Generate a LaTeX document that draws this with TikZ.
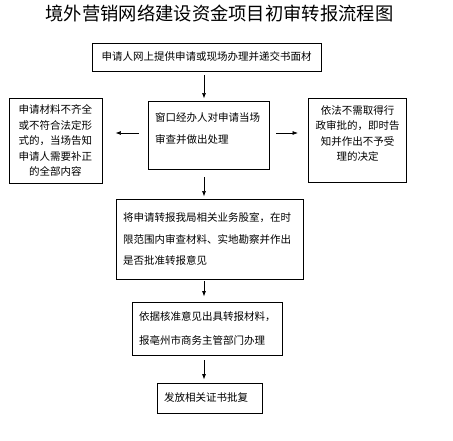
\documentclass[tikz,border=0pt]{standalone}
\usepackage{fontspec}
\newfontfamily\cjkfont{Noto Sans CJK SC}
\usetikzlibrary{arrows.meta, calc}

\begin{document}
\begin{tikzpicture}[
    x=1pt, y=-1pt,
    font=\cjkfont\fontsize{10.5}{15.5}\selectfont,
    every node/.style={inner sep=0pt},
    box/.style    ={draw=black, line width=0.9pt, inner xsep=7pt, inner ysep=0pt},
    leftbox/.style={box, align=left},
    midbox/.style ={box, align=center},
    arr/.style    ={-{Latex[length=5.5pt,width=4pt]}, line width=0.7pt},
    title/.style  ={font=\cjkfont\fontsize{18.3}{18.3}\selectfont},
  ]

  %% --- page -------------------------------------------------------------
  \useasboundingbox (0,0) rectangle (453,441);
  \def\ax{204}   % main column of arrows
  \def\ay{133}   % row of side arrows
  \coordinate (axis) at (\ax,0);
  \coordinate (row)  at (0,\ay);

  %% --- title ------------------------------------------------------------
  \node[title] (title) at (219.5,13) {境外营销网络建设资金项目初审转报流程图};

  %% --- boxes ------------------------------------------------------------
  \node[midbox, minimum width=229pt, minimum height=28pt] (apply) at (206.5,57)
        {申请人网上提供申请或现场办理并递交书面材};
  \node[leftbox, text width=107pt, minimum height=68pt,
        font=\cjkfont\fontsize{10.5}{22}\selectfont] (window) at (208.5,135)
        {窗口经办人对申请当场\\审查并做出处理\rule[-13pt]{0pt}{0pt}};
  \node[midbox, text width=79pt, minimum height=85pt] (incomplete) at (55.5,140.5)
        {申请材料不齐全\\或不符合法定形\\式的，当场告知\\申请人需要补正\\的全部内容};
  \node[midbox, text width=84pt, minimum height=84pt] (notneeded) at (357.5,140)
        {依法不需取得行\\政审批的，即时告\\知并作出不予受\\理的决定\rule[-14pt]{0pt}{0pt}};
  \node[leftbox, text width=173pt, minimum height=80pt,
        font=\cjkfont\fontsize{10.5}{21.5}\selectfont] (review) at (209.5,239)
        {将申请转报我局相关业务股室，在时\\限范围内审查材料、实地勘察并作出\\是否批准转报意见};
  \node[leftbox, text width=136pt, minimum height=53pt,
        font=\cjkfont\fontsize{10.5}{24}\selectfont] (report) at (207,328.5)
        {依据核准意见出具转报材料，\\报亳州市商务主管部门办理};
  \node[leftbox, text width=91pt, minimum height=30pt, inner xsep=7pt] (issue) at (209.5,398)
        {发放相关证书批复};

  %% --- arrows -----------------------------------------------------------
  \draw[arr, shorten <=4pt, shorten >=2pt] (apply.south -| axis) -- (window.north -| axis);
  \draw[arr, shorten <=8pt, shorten >=2pt] (window.south -| axis) -- (review.north -| axis);
  \draw[arr, shorten <=2pt, shorten >=5pt] (review.south -| axis) -- (report.north -| axis);
  \draw[arr, shorten <=5pt, shorten >=3pt] (report.south -| axis) -- (issue.north -| axis);
  \draw[arr, shorten <=9pt, shorten >=13pt] (window.west |- row) -- (incomplete.east |- row);
  \draw[arr, shorten <=7pt, shorten >=10pt] (window.east |- row) -- (notneeded.west |- row);

\end{tikzpicture}
\end{document}
